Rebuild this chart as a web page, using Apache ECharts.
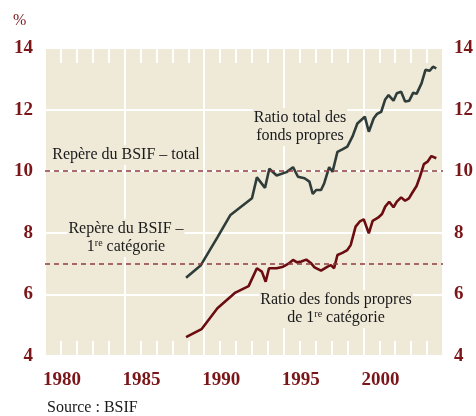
<!DOCTYPE html>
<html>
<head>
<meta charset="utf-8">
<script src="https://cdn.jsdelivr.net/npm/echarts@6/dist/echarts.min.js"></script>
<style>
  html, body { margin: 0; padding: 0; background: #fff; }
  #chart { width: 476px; height: 416px; }
</style>
</head>
<body>
<div id="chart"></div>
<script>
// ratio total des fonds propres
var totalYears = [1988.86, 1989.79, 1990.83, 1991.65, 1993.0, 1993.31, 1993.82, 1994.09, 1994.55, 1995.17,
  1995.58, 1995.89, 1996.3, 1996.61, 1996.82, 1997.03, 1997.34, 1997.54, 1997.85, 1998.06,
  1998.37, 1998.68, 1998.99, 1999.31, 1999.62, 2000.09, 2000.34, 2000.65, 2000.86, 2001.12,
  2001.37, 2001.58, 2001.89, 2002.1, 2002.37, 2002.62, 2002.88, 2003.13, 2003.34, 2003.65,
  2003.9, 2004.17, 2004.37, 2004.58];
var totalValues = [6.54, 6.95, 7.85, 8.58, 9.12, 9.8, 9.46, 10.08, 9.86, 9.97,
  10.13, 9.82, 9.77, 9.66, 9.26, 9.39, 9.39, 9.61, 10.13, 9.98,
  10.63, 10.71, 10.8, 11.12, 11.55, 11.77, 11.28, 11.72, 11.86, 11.93,
  12.33, 12.47, 12.29, 12.53, 12.58, 12.26, 12.29, 12.55, 12.51, 12.85,
  13.29, 13.26, 13.39, 13.34];

// ratio des fonds propres de 1re catégorie
var tier1Years = [1988.86, 1989.83, 1990.83, 1991.96, 1992.79, 1993.31, 1993.62, 1993.86, 1994.07, 1994.55,
  1994.96, 1995.27, 1995.58, 1995.83, 1996.1, 1996.41, 1996.72, 1996.93, 1997.34, 1997.75,
  1997.96, 1998.16, 1998.37, 1998.68, 1998.99, 1999.2, 1999.51, 1999.76, 2000.02, 2000.34,
  2000.58, 2000.92, 2001.17, 2001.37, 2001.62, 2001.89, 2002.1, 2002.37, 2002.62, 2002.86,
  2003.07, 2003.34, 2003.55, 2003.8, 2004.03, 2004.27, 2004.58];
var tier1Values = [4.61, 4.87, 5.55, 6.06, 6.27, 6.85, 6.74, 6.41, 6.85, 6.85,
  6.9, 6.99, 7.12, 7.04, 7.07, 7.13, 7.01, 6.88, 6.77, 6.9,
  6.95, 6.85, 7.28, 7.35, 7.44, 7.6, 8.2, 8.36, 8.44, 7.98,
  8.39, 8.49, 8.61, 8.85, 9.01, 8.83, 9.01, 9.15, 9.04, 9.12,
  9.3, 9.52, 9.82, 10.23, 10.31, 10.49, 10.42];

// repères du BSIF
var benchmarkTotal = 10;
var benchmarkTier1 = 7;

var yTicks = [4, 6, 8, 10, 12, 14];
var xTicks = [1980, 1985, 1990, 1995, 2000];

var red = '#7a1518';
var beige = '#efe9d8';
var ink = '#1a1a1a';
var serif = '"Liberation Serif", "DejaVu Serif", serif';

function pairs(xs, ys) {
  return xs.map(function (x, i) { return [x, ys[i]]; });
}

var chart = echarts.init(document.getElementById('chart'));

var minorTicks = {
  show: true,
  splitNumber: 5,
  length: 15,
  lineStyle: { color: '#fff', width: 2 }
};

var yAxisBase = {
  type: 'value',
  min: yTicks[0],
  max: yTicks[yTicks.length - 1],
  interval: 2,
  axisLine: { show: false },
  axisTick: { show: false },
  axisLabel: { color: red, fontFamily: serif, fontSize: 19, fontWeight: 'bold' }
};

var richSup = {
  n: { fontFamily: serif, fontSize: 16, fill: ink },
  s: { fontFamily: serif, fontSize: 10, fill: ink, verticalAlign: 'top', padding: [0, 0, 6, 0] }
};

// étiquette avec fond beige : masque la grille, mais reste sous les courbes
function note(x, y, text, rich) {
  return {
    type: 'text', x: x, y: y, z: 1,
    style: {
      text: text, fill: ink, font: '16px ' + serif,
      align: 'center', verticalAlign: 'middle', lineHeight: 18,
      backgroundColor: beige, padding: [1, 1],
      rich: rich
    }
  };
}

var option = {
  animation: false,
  backgroundColor: '#fff',
  grid: { left: 45, right: 29, top: 48, bottom: 60, show: true, backgroundColor: beige, borderWidth: 0 },
  xAxis: [
    {
      type: 'value',
      min: 1980,
      max: 2005,
      interval: 5,
      position: 'bottom',
      axisLine: { show: false },
      axisTick: { show: false, inside: true },
      minorTick: minorTicks,
      splitLine: { show: true, lineStyle: { color: '#fff', width: 2 } },
      axisLabel: {
        color: red, fontFamily: serif, fontSize: 19, fontWeight: 'bold',
        align: 'left', margin: 15, padding: [0, 0, 0, -2],
        formatter: function (v) { return xTicks.indexOf(v) >= 0 ? String(v) : ''; }
      }
    },
    {
      type: 'value',
      min: 1980,
      max: 2005,
      interval: 5,
      position: 'top',
      axisLine: { show: false },
      axisTick: { show: false, inside: true },
      minorTick: minorTicks,
      splitLine: { show: false },
      axisLabel: { show: false }
    }
  ],
  yAxis: [
    Object.assign({}, yAxisBase, {
      position: 'left',
      splitLine: { show: true, lineStyle: { color: '#fff', width: 2 } },
      axisLabel: Object.assign({}, yAxisBase.axisLabel, { margin: 12 })
    }),
    Object.assign({}, yAxisBase, {
      position: 'right',
      splitLine: { show: false },
      axisLabel: Object.assign({}, yAxisBase.axisLabel, { margin: 11 })
    })
  ],
  series: [
    {
      name: 'Ratio total des fonds propres',
      type: 'line',
      data: pairs(totalYears, totalValues),
      showSymbol: false,
      lineStyle: { color: '#2f3d3a', width: 2.6 },
      z: 3,
      markLine: {
        silent: true,
        symbol: 'none',
        label: { show: false },
        lineStyle: { color: '#8e3b3e', type: [5, 4], width: 1.6 },
        data: [{ yAxis: benchmarkTotal }, { yAxis: benchmarkTier1 }]
      }
    },
    {
      name: 'Ratio des fonds propres de 1re catégorie',
      type: 'line',
      data: pairs(tier1Years, tier1Values),
      showSymbol: false,
      lineStyle: { color: '#6b0d10', width: 2.6 },
      z: 3
    }
  ],
  graphic: [
    { type: 'text', left: 13, top: 13, style: { text: '%', fill: red, font: '16px ' + serif } },
    note(300, 127, 'Ratio total des\nfonds propres'),
    note(126, 155, 'Repère du BSIF – total'),
    note(126, 238, 'Repère du BSIF –\n{n|1}{s|re}{n| catégorie}', richSup),
    note(336, 309, 'Ratio des fonds propres\n{n|de 1}{s|re}{n| catégorie}', richSup),
    { type: 'text', left: 47, top: 400, style: { text: 'Source : BSIF', fill: ink, font: '16px ' + serif } }
  ]
};

chart.setOption(option);
</script>
</body>
</html>
